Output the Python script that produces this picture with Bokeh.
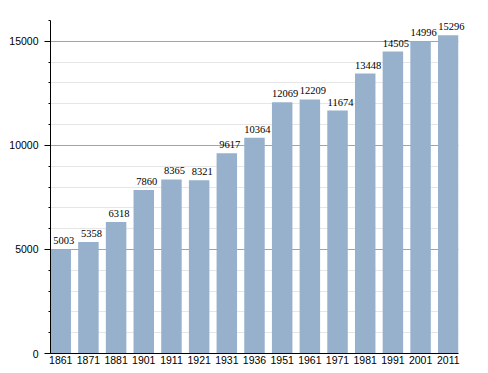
from bokeh.plotting import figure
from bokeh.models import ColumnDataSource, FixedTicker, SingleIntervalTicker, Range1d, LabelSet, BoxAnnotation
from bokeh.embed import file_html
from bokeh.resources import INLINE

years = ["1861", "1871", "1881", "1901", "1911", "1921", "1931", "1936",
         "1951", "1961", "1971", "1981", "1991", "2001", "2011"]
population = [5003, 5358, 6318, 7860, 8365, 8321, 9617, 10364,
              12069, 12209, 11674, 13448, 14505, 14996, 15296]

xs = list(range(len(years)))
bar_w = 0.74
x_end = len(years) - 1 + bar_w / 2
src = ColumnDataSource(dict(x=xs, top=population, label=[str(v) for v in population]))

FONT = "Liberation Sans"
TXT = "#000000"

# frame extends a little right of the last bar so the last value label is not clipped;
# that strip is blanked so grid lines stop at the last bar like in the reference
p = figure(frame_width=422, frame_height=333, output_backend="svg", toolbar_location=None,
           x_range=Range1d(-bar_w / 2, x_end + 0.506), y_range=Range1d(0, 16000),
           min_border_left=50, min_border_right=0, min_border_top=20, min_border_bottom=0)
p.outline_line_color = None
p.background_fill_color = "white"

p.vbar(x="x", top="top", width=bar_w, source=src, fill_color="#97b1cc", line_color=None)

p.add_layout(BoxAnnotation(left=x_end, fill_color="white", fill_alpha=1.0,
                           line_color=None, level="glyph"))

labels = LabelSet(x="x", y="top", text="label", source=src, text_align="center",
                  text_baseline="alphabetic", x_offset=3, y_offset=5, level="overlay",
                  text_font=FONT, text_font_size="10.5px", text_color=TXT)
p.add_layout(labels)

p.xaxis.bounds = (-bar_w / 2, x_end)
p.xaxis.ticker = FixedTicker(ticks=xs)
p.xaxis.major_label_overrides = {i: y for i, y in enumerate(years)}
p.xaxis.major_tick_out = 0
p.xaxis.major_tick_in = 0
p.xaxis.minor_tick_out = 0
p.xaxis.major_label_standoff = 2
p.xaxis.axis_line_color = "black"
p.xaxis.major_label_text_font = FONT
p.xaxis.major_label_text_font_size = "10.5px"
p.xaxis.major_label_text_color = TXT
p.xgrid.grid_line_color = None

p.yaxis.ticker = SingleIntervalTicker(interval=5000, num_minor_ticks=5)
p.yaxis.major_tick_out = 6
p.yaxis.major_tick_in = 0
p.yaxis.minor_tick_out = 2
p.yaxis.minor_tick_in = 0
p.yaxis.major_label_standoff = 6
p.yaxis.axis_line_color = "black"
p.yaxis.major_tick_line_color = "black"
p.yaxis.minor_tick_line_color = "black"
p.yaxis.major_label_text_font = FONT
p.yaxis.major_label_text_font_size = "10.5px"
p.yaxis.major_label_text_color = TXT
p.yaxis.formatter.use_scientific = False
p.ygrid.grid_line_color = "#a3a3a3"
p.ygrid.minor_grid_line_color = "#e6e6e6"

open("out.html", "w").write(file_html(p, INLINE))
